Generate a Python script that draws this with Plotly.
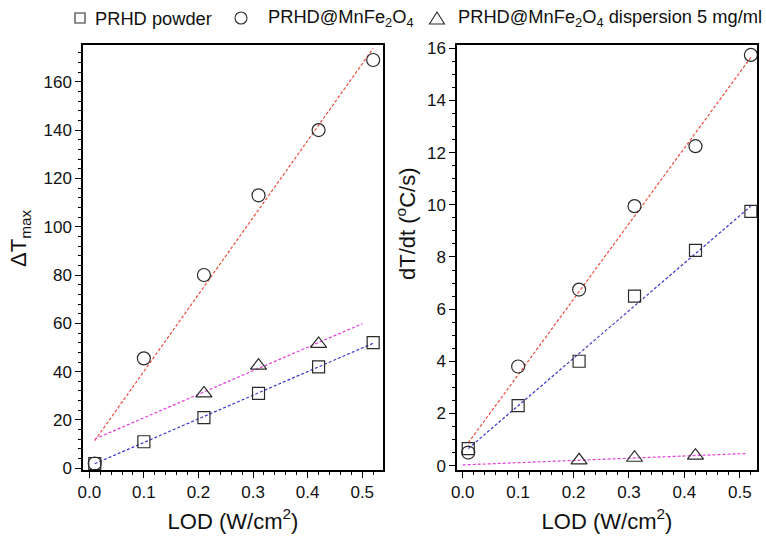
import numpy as np
import plotly.graph_objects as go
from plotly.subplots import make_subplots

# ---- data ----
lod = [0.01, 0.10, 0.21, 0.31, 0.42, 0.52]
lod_disp = [0.21, 0.31, 0.42]

dtmax_powder = [2, 11, 21, 31, 42, 52]
dtmax_mnfe = [2, 45.5, 80, 113, 140, 169]
dtmax_disp = [31, 42.5, 51.5]

rate_powder = [0.65, 2.3, 4.0, 6.5, 8.25, 9.75]
rate_mnfe = [0.5, 3.8, 6.75, 9.95, 12.25, 15.75]
rate_disp = [0.2, 0.3, 0.38]

# x extents of the linear fits
fit_ext_left = {"powder": [0.01, 0.52], "mnfe": [0.01, 0.52], "disp": [0.01, 0.50]}
fit_ext_right = {"powder": [0.01, 0.52], "mnfe": [0.01, 0.52], "disp": [0.0, 0.51]}

series_keys = ["powder", "mnfe", "disp"]
legend_names = ["PRHD powder", "PRHD@MnFe<sub>2</sub>O<sub>4</sub>",
                "PRHD@MnFe<sub>2</sub>O<sub>4</sub> dispersion 5 mg/ml"]
x_title = "LOD (W/cm<sup>2</sup>)"
y_title_left = "ΔT<sub>max</sub>"
y_title_right = "dT/dt (<sup>o</sup>C/s)"

FONT = "Liberation Sans, Arial, sans-serif"
MK_LINE = dict(color="#2a2a2a", width=1.2)
symbols = {"powder": "square-open", "mnfe": "circle-open", "disp": "triangle-up-open"}
sizes = {"powder": 12, "mnfe": 13, "disp": 14}
fit_colors = {"powder": "#3a3ac8", "mnfe": "#ee4a3c", "disp": "#e040d8"}

W, H = 766, 542
M = dict(l=83, r=9, t=45, b=72)
PW, PH = W - M["l"] - M["r"], H - M["t"] - M["b"]


def px_x(p):
    return (p - M["l"]) / PW


def px_y(p):
    return (H - M["b"] - p) / PH


fig = make_subplots(rows=1, cols=2, horizontal_spacing=0.11)


def add_panel(col, series, ext):
    for key, (xs, ys) in series.items():
        k, b = np.polyfit(xs, ys, 1)
        fx = np.array(ext[key])
        fig.add_trace(go.Scatter(x=fx, y=k * fx + b, mode="lines",
                                 line=dict(color=fit_colors[key], width=1.2, dash="3px,2px"),
                                 showlegend=False, hoverinfo="skip"), row=1, col=col)
    for key, (xs, ys) in series.items():
        fig.add_trace(go.Scatter(x=xs, y=ys, mode="markers",
                                 marker=dict(symbol=symbols[key], size=sizes[key],
                                             color="#2a2a2a", line=MK_LINE),
                                 showlegend=False), row=1, col=col)


add_panel(1, {"powder": (lod, dtmax_powder), "mnfe": (lod, dtmax_mnfe),
              "disp": (lod_disp, dtmax_disp)}, fit_ext_left)
add_panel(2, {"powder": (lod, rate_powder), "mnfe": (lod, rate_mnfe),
              "disp": (lod_disp, rate_disp)}, fit_ext_right)

# ---- legend drawn across the top (glyph + text) ----
leg_y = 18
glyph_cx = {"powder": 80, "mnfe": 241, "disp": 437}
text_x = {"powder": 93, "mnfe": 266, "disp": 456}
line_style = dict(color="#2a2a2a", width=1.1)
shapes = []
s = 5
cx = glyph_cx["powder"]
shapes.append(dict(type="rect", xref="paper", yref="paper",
                   x0=px_x(cx - s), x1=px_x(cx + s), y0=px_y(leg_y + s), y1=px_y(leg_y - s),
                   line=line_style, fillcolor="rgba(0,0,0,0)"))
r = 6
cx = glyph_cx["mnfe"]
shapes.append(dict(type="circle", xref="paper", yref="paper",
                   x0=px_x(cx - r), x1=px_x(cx + r), y0=px_y(leg_y + r), y1=px_y(leg_y - r),
                   line=line_style, fillcolor="rgba(0,0,0,0)"))
cx = glyph_cx["disp"]
tw, th = 7.5, 6
shapes.append(dict(type="path", xref="paper", yref="paper",
                   path=f"M {px_x(cx - tw)},{px_y(leg_y + th)} L {px_x(cx + tw)},{px_y(leg_y + th)} "
                        f"L {px_x(cx)},{px_y(leg_y - th)} Z",
                   line=line_style, fillcolor="rgba(0,0,0,0)"))

annotations = []
for key, name in zip(series_keys, legend_names):
    annotations.append(dict(xref="paper", yref="paper", x=px_x(text_x[key]), y=px_y(leg_y),
                            xanchor="left", yanchor="middle", showarrow=False, text=name,
                            font=dict(family=FONT, size=18.3, color="#111")))

# y-axis titles (placed as rotated texts, as in the reference)
TITLE_FONT = dict(family=FONT, size=22, color="#111")
annotations.append(dict(xref="paper", yref="paper", x=px_x(20), y=px_y(238),
                        xanchor="center", yanchor="middle", showarrow=False, textangle=-90,
                        text=y_title_left, font=TITLE_FONT))
annotations.append(dict(xref="paper", yref="paper", x=px_x(406), y=px_y(224),
                        xanchor="center", yanchor="middle", showarrow=False, textangle=-90,
                        text=y_title_right, font=TITLE_FONT))

axis_common = dict(showline=True, linecolor="black", linewidth=1.5, mirror=True,
                   showgrid=False, zeroline=False, ticks="outside", ticklen=6,
                   tickwidth=1.3, tickcolor="black", automargin=False,
                   tickfont=dict(family=FONT, size=17, color="#111"),
                   title_font=TITLE_FONT)

fig.update_xaxes(**axis_common, dtick=0.1, tickformat=".1f",
                 minor=dict(dtick=0.02, ticks="outside", ticklen=3, tickcolor="black", tickwidth=1),
                 title_text=x_title, title_standoff=12)
fig.update_xaxes(range=[-0.0115, 0.538], row=1, col=1)
fig.update_xaxes(range=[-0.0103, 0.531], row=1, col=2)

fig.update_yaxes(**axis_common)
fig.update_yaxes(range=[-0.7, 175.2], dtick=20,
                 minor=dict(dtick=4, ticks="outside", ticklen=3, tickcolor="black", tickwidth=1),
                 row=1, col=1)
fig.update_yaxes(range=[-0.17, 16.13], dtick=2,
                 minor=dict(dtick=0.5, ticks="outside", ticklen=3, tickcolor="black", tickwidth=1),
                 row=1, col=2)

fig.update_layout(
    width=W, height=H,
    margin=M,
    plot_bgcolor="white", paper_bgcolor="white",
    font=dict(family=FONT, color="#111"),
    showlegend=False,
    shapes=shapes,
    annotations=annotations,
)
fig.update_layout(xaxis=dict(domain=[0, 0.4451]), xaxis2=dict(domain=[0.5549, 1]))

fig.write_html("out.html", config={"displayModeBar": False},
               post_script="document.body.style.margin='0';document.body.style.overflow='hidden';")
